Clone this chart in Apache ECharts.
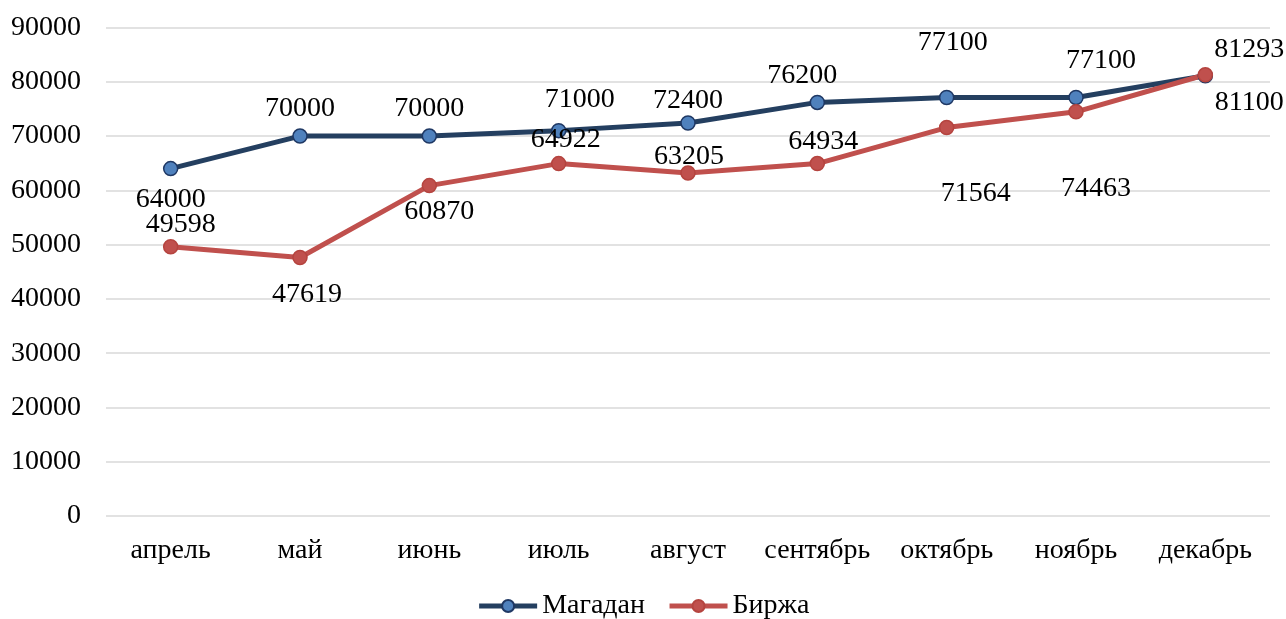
<!DOCTYPE html>
<html>
<head>
<meta charset="utf-8">
<script src="https://cdn.jsdelivr.net/npm/echarts@6/dist/echarts.min.js"></script>
<style>
html,body{margin:0;padding:0;background:#fff;}
#chart{width:1286px;height:619px;}
</style>
</head>
<body>
<div id="chart"></div>
<script>
const categories = ['апрель','май','июнь','июль','август','сентябрь','октябрь','ноябрь','декабрь'];
const magadan = [64000, 70000, 70000, 71000, 72400, 76200, 77100, 77100, 81100];
const birzha = [49598, 47619, 60870, 64922, 63205, 64934, 71564, 74463, 81293];
const seriesNames = ['Магадан', 'Биржа'];

// label placement (style only)
const magadanOffsets = [[0,31],[0,-27],[0,-27],[21,-31],[0,-22],[-15,-27],[6,-55],[25,-37],[44,27]];
const birzhaOffsets = [[10,-22],[7,37],[10,26],[7,-24],[1,-16],[6,-22],[29,66],[20,77],[44,-25]];

const FONT = 'Liberation Serif';
const FS = 28;

function build(values, offsets) {
  return values.map((v, i) => ({
    value: v,
    label: { show: true, position: 'inside', offset: offsets[i] }
  }));
}

const chart = echarts.init(document.getElementById('chart'), null, {renderer: 'canvas'});
chart.setOption({
  animation: false,
  textStyle: { fontFamily: FONT },
  grid: { left: 106, right: 16, top: 27.5, bottom: 103, containLabel: false },
  legend: {
    bottom: -6,
    left: 'center',
    itemWidth: 58,
    itemHeight: 15,
    itemGap: 22,
    lineStyle: { width: 5 },
    textStyle: { fontFamily: FONT, fontSize: FS, color: '#000' },
    data: seriesNames
  },
  xAxis: {
    type: 'category',
    data: categories,
    boundaryGap: true,
    axisLine: { show: false },
    axisTick: { show: false },
    axisLabel: { fontFamily: FONT, fontSize: FS, color: '#000', margin: 21, interval: 0 }
  },
  yAxis: {
    type: 'value',
    min: 0,
    max: 90000,
    interval: 10000,
    axisLine: { show: false },
    axisTick: { show: false },
    splitLine: { lineStyle: { color: '#D9D9D9', width: 1.5 } },
    axisLabel: { fontFamily: FONT, fontSize: FS, color: '#000', margin: 25, formatter: v => String(v) }
  },
  series: [
    {
      name: seriesNames[0],
      type: 'line',
      data: build(magadan, magadanOffsets),
      symbol: 'circle',
      symbolSize: 14,
      lineStyle: { color: '#243F60', width: 5 },
      itemStyle: { color: '#4F81BD', borderColor: '#1F3864', borderWidth: 1.5 },
      label: { fontFamily: FONT, fontSize: FS, color: '#000' }
    },
    {
      name: seriesNames[1],
      type: 'line',
      data: build(birzha, birzhaOffsets),
      symbol: 'circle',
      symbolSize: 14,
      lineStyle: { color: '#C0504D', width: 5 },
      itemStyle: { color: '#C0504D', borderColor: '#B5443F', borderWidth: 1.5 },
      label: { fontFamily: FONT, fontSize: FS, color: '#000' }
    }
  ]
});
</script>
</body>
</html>
